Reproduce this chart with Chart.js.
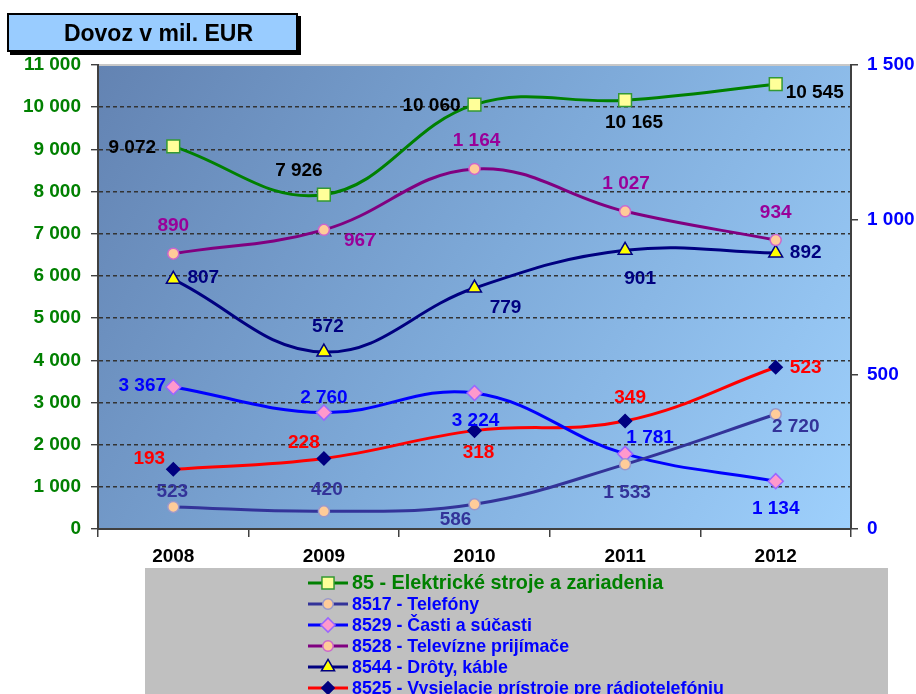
<!DOCTYPE html>
<html>
<head>
<meta charset="utf-8">
<title>Dovoz v mil. EUR</title>
<script src="https://cdn.jsdelivr.net/npm/chart.js@4.4.1/dist/chart.umd.min.js"></script>
<style>
  html, body { margin: 0; padding: 0; background: #fff; }
  #wrap { position: relative; width: 916px; height: 694px; overflow: hidden; }
  #chart { position: absolute; left: 0; top: 0; }
  #title {
    position: absolute; left: 7px; top: 13px; width: 275px; height: 35px;
    padding-left: 12px;
    background: #99ccff; border: 2px solid #000; box-shadow: 3px 3px 0 #000;
    font: bold 23px "Liberation Sans", Arial, sans-serif; line-height: 36px; text-align: center;
  }
</style>
</head>
<body>
<div id="wrap">
  <canvas id="chart" width="916" height="694"></canvas>
  <div id="title">Dovoz v mil. EUR</div>
</div>
<script>
// ---- data ----
const years = ['2008', '2009', '2010', '2011', '2012'];
const seriesNames = [
    '85 - Elektrické stroje a zariadenia',
    '8517 - Telefóny',
    '8529 - Časti a súčasti',
    '8528 - Televízne prijímače',
    '8544 - Drôty, káble',
    '8525 - Vysielacie prístroje pre rádiotelefóniu'
];
const elektricke = [9072, 7926, 10060, 10165, 10545];   // left axis
const telefony   = [523, 420, 586, 1533, 2720];          // left axis
const casti      = [3367, 2760, 3224, 1781, 1134];       // left axis
const televizne  = [890, 967, 1164, 1027, 934];          // right axis
const droty      = [807, 572, 779, 901, 892];            // right axis
const vysielacie = [193, 228, 318, 349, 523];            // right axis
const leftMax = 11000, leftStep = 1000;
const rightMax = 1500, rightStep = 500;

// where each value label sits, relative to its point (dx, dy)
const lbl85   = [[-41, 0], [-25, -25], [-43, 0], [9, 22], [39, 8]];
const lbl8517 = [[-1, -16], [3, -23], [-19, 14], [2, 27], [20, 12]];
const lbl8529 = [[-31, -2], [0, -16], [1, 27], [25, -17], [0, 27]];
const lbl8528 = [[0, -29], [36, 10], [2, -29], [1, -29], [0, -28]];
const lbl8544 = [[30, -3], [4, -26], [31, 19], [15, 27], [30, -1]];
const lbl8525 = [[-24, -12], [-20, -17], [4, 21], [5, -24], [30, 0]];

const FONT = '"Liberation Sans", Arial, sans-serif';
const fmt = v => String(v).replace(/\B(?=(\d{3})+(?!\d))/g, ' ');  // 9072 -> "9 072"

function makeSet(name, values, axis, line, marker, style, radius, border, labelColor, offsets, legendColor) {
    return {
        label: name,
        data: values,
        yAxisID: axis,
        borderColor: line,
        borderWidth: 3,
        backgroundColor: marker,
        pointBackgroundColor: marker,
        pointBorderColor: border,
        pointBorderWidth: 1.5,
        pointStyle: style,
        pointRadius: radius,
        tension: 0.4,
        fill: false,
        labelColor: labelColor,
        labelOffsets: offsets,
        legendColor: legendColor
    };
}

// gradient background + light top edge of the plot area
const plotBg = {
    id: 'plotBg',
    beforeDraw(chart) {
        const {ctx, chartArea: a} = chart;
        const g = ctx.createLinearGradient(a.left, a.top, a.right, a.bottom);
        g.addColorStop(0, '#6383b2');
        g.addColorStop(0.5, '#7eaad9');
        g.addColorStop(1, '#9ed0fc');
        ctx.save();
        ctx.fillStyle = g;
        ctx.fillRect(a.left, a.top, a.right - a.left, a.bottom - a.top);
        ctx.strokeStyle = '#c8c8c8';
        ctx.lineWidth = 2;
        ctx.beginPath();
        ctx.moveTo(a.left, a.top);
        ctx.lineTo(a.right, a.top);
        ctx.stroke();
        ctx.restore();
    }
};

// value labels next to every point
const valueLabels = {
    id: 'valueLabels',
    afterDatasetsDraw(chart) {
        const ctx = chart.ctx;
        ctx.save();
        ctx.font = 'bold 19px ' + FONT;
        ctx.textAlign = 'center';
        ctx.textBaseline = 'middle';
        chart.data.datasets.forEach((ds, i) => {
            const meta = chart.getDatasetMeta(i);
            ctx.fillStyle = ds.labelColor;
            meta.data.forEach((pt, j) => {
                const off = ds.labelOffsets[j];
                ctx.fillText(fmt(ds.data[j]), pt.x + off[0], pt.y + off[1] + 1);
            });
        });
        ctx.restore();
    }
};

// grey legend box under the chart
const boxLegend = {
    id: 'boxLegend',
    afterDraw(chart) {
        const ctx = chart.ctx;
        const helpers = Chart.helpers;
        ctx.save();
        ctx.fillStyle = '#c0c0c0';
        ctx.fillRect(145, 568, 743, 130);
        ctx.textAlign = 'left';
        ctx.textBaseline = 'middle';
        chart.data.datasets.forEach((ds, i) => {
            const y = 583 + i * 21;
            ctx.strokeStyle = ds.borderColor;
            ctx.lineWidth = 3;
            ctx.beginPath();
            ctx.moveTo(308, y);
            ctx.lineTo(348, y);
            ctx.stroke();
            ctx.fillStyle = ds.pointBackgroundColor;
            ctx.strokeStyle = ds.pointBorderColor;
            ctx.lineWidth = 1.5;
            helpers.drawPoint(ctx, {pointStyle: ds.pointStyle, radius: ds.pointRadius * 0.95, rotation: 0, borderWidth: 1.5}, 328, y);
            ctx.fillStyle = ds.legendColor;
            ctx.font = (i === 0 ? 'bold 19.8px ' : 'bold 17.8px ') + FONT;
            ctx.fillText(ds.label, 352, y + 1);
        });
        ctx.restore();
    }
};

const datasets = [
    makeSet(seriesNames[0], elektricke, 'y',  '#008000', '#ffff99', 'rect',    9,   '#339933', '#000000', lbl85,   '#008000'),
    makeSet(seriesNames[1], telefony,   'y',  '#333399', '#ffcc99', 'circle',  5.5, '#9999cc', '#333399', lbl8517, '#0000ff'),
    makeSet(seriesNames[2], casti,      'y',  '#0000ff', '#ff99cc', 'rectRot', 7.5, '#9966ff', '#0000ff', lbl8529, '#0000ff'),
    makeSet(seriesNames[3], televizne,  'y1', '#800080', '#ffcc99', 'circle',  5.5, '#cc66cc', '#990099', lbl8528, '#0000ff'),
    makeSet(seriesNames[4], droty,      'y1', '#000080', '#ffff00', 'triangle',8,   '#000080', '#000080', lbl8544, '#0000ff'),
    makeSet(seriesNames[5], vysielacie, 'y1', '#ff0000', '#000080', 'rectRot', 6.5, '#000080', '#ff0000', lbl8525, '#0000ff')
];

new Chart(document.getElementById('chart').getContext('2d'), {
    type: 'line',
    data: { labels: years, datasets: datasets },
    options: {
        responsive: false,
        animation: false,
        devicePixelRatio: 1,
        layout: { padding: { top: 65, bottom: 125, left: 0, right: 0 } },
        plugins: {
            legend: { display: false },
            tooltip: { enabled: false }
        },
        scales: {
            x: {
                offset: true,
                grid: { offset: true, drawOnChartArea: false, drawTicks: true, tickLength: 8, color: '#404040', lineWidth: 1.5 },
                border: { display: true, color: '#404040', width: 2 },
                ticks: { color: '#000', font: { family: FONT, weight: 'bold', size: 19 }, padding: 8 },
                afterFit(s) { s.height = 40; }
            },
            y: {
                position: 'left',
                min: 0,
                max: leftMax,
                ticks: {
                    stepSize: leftStep,
                    color: '#008000',
                    font: { family: FONT, weight: 'bold', size: 19 },
                    padding: 10,
                    callback: v => fmt(v)
                },
                grid: {
                    color: c => (c.tick && c.tick.value === leftMax) ? 'rgba(0,0,0,0)' : '#333333',
                    tickColor: '#404040',
                    lineWidth: 1.4,
                    tickLength: 7
                },
                border: { display: true, color: '#404040', width: 2, dash: [4, 3] },
                afterFit(s) { s.width = 98; }
            },
            y1: {
                position: 'right',
                min: 0,
                max: rightMax,
                ticks: {
                    stepSize: rightStep,
                    color: '#0000ff',
                    font: { family: FONT, weight: 'bold', size: 19 },
                    padding: 9,
                    callback: v => fmt(v)
                },
                grid: { drawOnChartArea: false, color: '#404040', lineWidth: 1.5, tickLength: 7 },
                border: { display: true, color: '#404040', width: 2 },
                afterFit(s) { s.width = 65; }
            }
        }
    },
    plugins: [plotBg, valueLabels, boxLegend]
});
</script>
</body>
</html>
